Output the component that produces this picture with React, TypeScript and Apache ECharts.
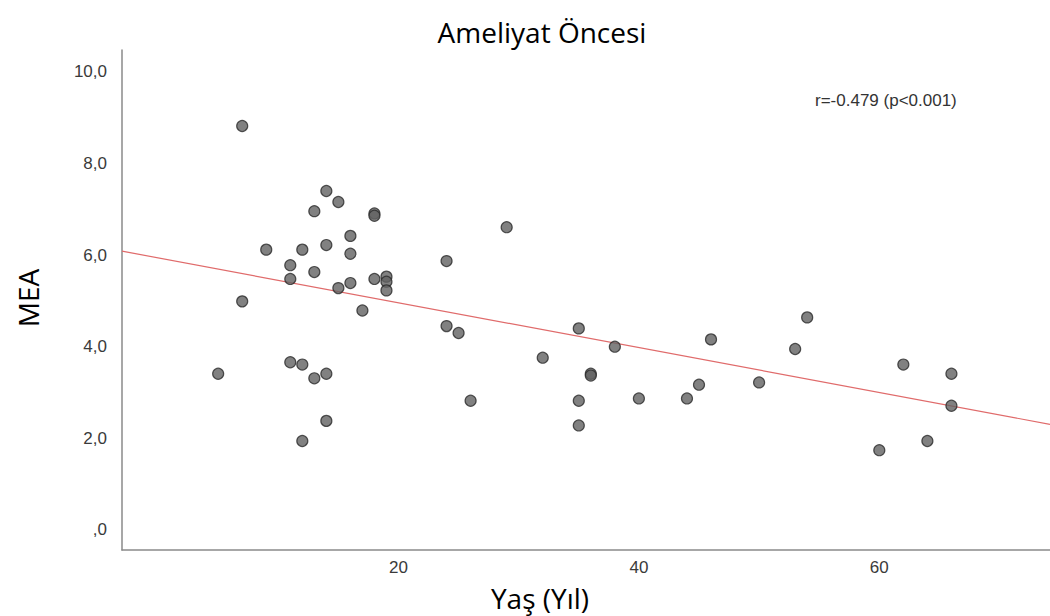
import React, { useEffect, useRef } from "react";
import * as echarts from "echarts";

const chartTitle = "Ameliyat Öncesi";
const xAxisName = "Yaş (Yıl)";
const yAxisName = "MEA";
const corrText = "r=-0.479 (p<0.001)";

const ages = [
  7, 14, 15, 13, 18, 18, 16, 9, 12, 14, 16, 11, 13, 11, 18, 19, 19, 19, 15, 16, 17, 7,
  11, 12, 5, 13, 14, 14, 12,
  29, 24, 24, 25, 26, 32, 35, 38, 36, 36, 35, 35, 40, 44, 45, 46,
  50, 53, 54, 62, 66, 66, 64, 60,
];
const mea = [
  8.82, 7.4, 7.16, 6.96, 6.91, 6.86, 6.42, 6.12, 6.12, 6.22, 6.03, 5.78, 5.63, 5.48, 5.48, 5.53, 5.42, 5.23, 5.28, 5.39, 4.79, 4.99,
  3.66, 3.61, 3.41, 3.31, 3.41, 2.38, 1.94,
  6.61, 5.87, 4.45, 4.3, 2.82, 3.76, 4.4, 4.0, 3.41, 3.37, 2.82, 2.28, 2.87, 2.87, 3.17, 4.16,
  3.22, 3.95, 4.64, 3.61, 3.41, 2.71, 1.94, 1.74,
];

const xTicks = [20, 40, 60];
const yTicks = [0, 2, 4, 6, 8, 10];
const xRange = [-3, 74.2];
const yRange = [-0.44, 10.48];
const fitIntercept = 5.94;
const fitSlope = -0.049;

export default function App() {
  const ref = useRef<HTMLDivElement>(null);
  useEffect(() => {
    const chart = echarts.init(ref.current!, null, { renderer: "svg" });
    const points = ages.map((a, i) => [a, mea[i]]);
    const fit = xRange.map((x) => [x, fitIntercept + fitSlope * x]);
    const nameFont = { fontSize: 28, fontFamily: "'Open Sans', sans-serif", fill: "#000", align: "center", verticalAlign: "middle" };
    chart.setOption({
      animation: false,
      backgroundColor: "#ffffff",
      grid: { left: 122, right: 0, top: 50, bottom: 66 },
      xAxis: {
        type: "value",
        min: xRange[0],
        max: xRange[1],
        splitLine: { show: false },
        axisLine: { show: true, onZero: false, lineStyle: { color: "#8a8a8a", width: 1.5 } },
        axisTick: { show: false },
        axisLabel: {
          customValues: xTicks,
          color: "#3a3a3a",
          fontSize: 17,
          fontFamily: "'Liberation Sans', Arial, sans-serif",
          margin: 9,
        },
      },
      yAxis: {
        type: "value",
        min: yRange[0],
        max: yRange[1],
        splitLine: { show: false },
        axisLine: { show: true, onZero: false, lineStyle: { color: "#8a8a8a", width: 1.5 } },
        axisTick: { show: false },
        axisLabel: {
          customValues: yTicks,
          color: "#3a3a3a",
          fontSize: 17,
          fontFamily: "'Liberation Sans', Arial, sans-serif",
          margin: 15,
          formatter: (v: number) => (v === 0 ? ",0" : v.toFixed(1).replace(".", ",")),
        },
      },
      graphic: [
        { type: "text", x: 542, y: 32, style: { ...nameFont, text: chartTitle } },
        { type: "text", x: 540, y: 598, style: { ...nameFont, text: xAxisName } },
        { type: "text", x: 28, y: 298, rotation: Math.PI / 2, style: { ...nameFont, text: yAxisName } },
        {
          type: "text",
          x: 815,
          y: 100,
          style: {
            text: corrText,
            fontSize: 17,
            fontFamily: "'Liberation Sans', Arial, sans-serif",
            fill: "#333",
            align: "left",
            verticalAlign: "middle",
          },
        },
      ],
      series: [
        {
          type: "line",
          data: fit,
          symbol: "none",
          lineStyle: { color: "#e06b6b", width: 1.2 },
          z: 1,
        },
        {
          type: "scatter",
          data: points,
          symbolSize: 11,
          itemStyle: { color: "#626262", borderColor: "#2a2a2a", borderWidth: 1.2 },
          z: 2,
        },
      ],
    });
    return () => chart.dispose();
  }, []);
  return (
    <div
      ref={ref}
      style={{ position: "absolute", left: 0, top: 0, width: 1050, height: 616 }}
    />
  );
}
